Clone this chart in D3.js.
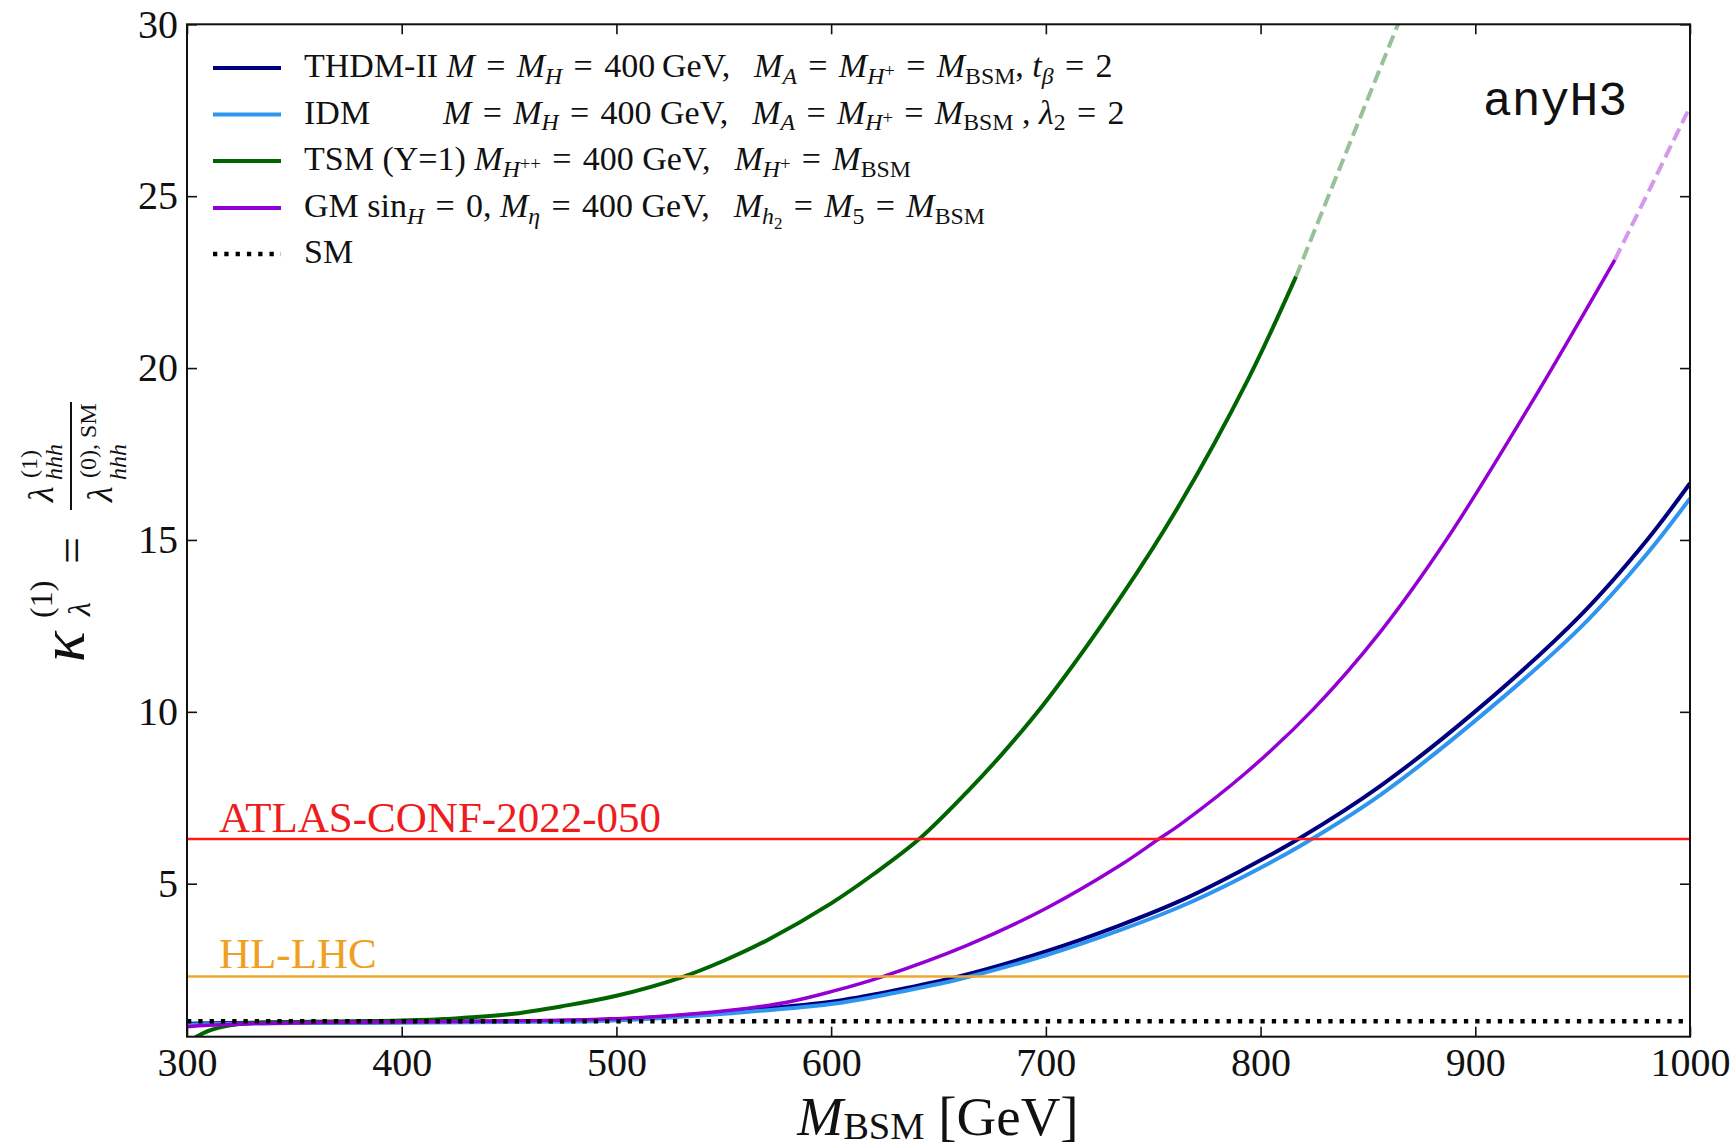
<!DOCTYPE html>
<html>
<head>
<meta charset="utf-8">
<title>kappa lambda vs M_BSM</title>
<script src="https://d3js.org/d3.v7.min.js"></script>
<style>
  body { margin: 0; background: #fff; }
  text { white-space: pre; }
  .axis path.domain { display: none; }
  .axis line { stroke: #111; stroke-width: 1.6px; }
  .axis text { font-family: 'Liberation Serif', 'Times New Roman', serif; font-size: 40px; fill: #111; }
</style>
</head>
<body>
<script>
// ---- data ----
var xTicks = [300, 400, 500, 600, 700, 800, 900, 1000];
var yTicks = [5, 10, 15, 20, 25, 30];

var massTHDM = [300, 320, 350, 400, 450, 492, 520, 550, 600, 630, 659.5, 700, 734.5, 762.5, 790, 818.4, 855.7, 900.7, 948.9, 980, 1000];
var kapTHDM  = [0.93, 0.95, 0.96, 0.97, 1.0, 1.03, 1.12, 1.27, 1.57, 1.9, 2.3, 3.03, 3.79, 4.5, 5.35, 6.33, 7.84, 10.05, 12.8, 15.0, 16.65];

var massIDM = [300, 320, 350, 400, 450, 492, 520, 550, 600, 630, 659.5, 700, 734.5, 762.5, 790, 818.4, 855.7, 900.7, 948.9, 980, 1000];
var kapIDM  = [0.9, 0.93, 0.95, 0.96, 0.98, 1.01, 1.09, 1.22, 1.5, 1.83, 2.22, 2.92, 3.65, 4.33, 5.14, 6.1, 7.58, 9.78, 12.45, 14.6, 16.21];

var massTSM = [303, 310, 320, 330, 350, 375, 400, 425, 450, 475, 500, 530, 550, 570, 600, 620, 641, 663, 680, 700, 735, 762, 794, 816.5];
var kapTSM  = [0.5, 0.72, 0.88, 0.95, 0.98, 1.0, 1.02, 1.08, 1.2, 1.44, 1.74, 2.27, 2.76, 3.35, 4.43, 5.29, 6.3, 7.65, 8.8, 10.3, 13.35, 16.0, 19.65, 22.66];
var massTSMext = [816.5, 840, 864];
var kapTSMext  = [22.66, 26.3, 30.0];

var massGM = [300, 310, 330, 360, 400, 450, 492, 520, 553, 580, 600, 624, 663, 700, 735, 752.6, 762.5, 793.6, 824.6, 855.7, 886.7, 925.5, 965];
var kapGM  = [0.84, 0.88, 0.93, 0.96, 0.98, 1.01, 1.06, 1.14, 1.32, 1.56, 1.86, 2.3, 3.2, 4.28, 5.55, 6.3, 6.72, 8.25, 10.08, 12.32, 15.02, 18.92, 23.15];
var massGMext = [965, 982, 1000];
var kapGMext  = [23.15, 25.3, 27.6];

var kapSM = 1.0;
var kapATLAS = 6.3;
var kapHLLHC = 2.3;

var SERIF = "'Liberation Serif', 'Times New Roman', serif";

var svg = d3.select("body").append("svg")
    .attr("width", 1735)
    .attr("height", 1148);

var x = d3.scaleLinear().domain([300, 1000]).range([187, 1690]);
var y = d3.scaleLinear().domain([0.55, 30]).range([1036.7, 24.3]);

svg.append("defs").append("clipPath").attr("id", "plotclip")
  .append("rect").attr("x", 187).attr("y", 24.3).attr("width", 1503).attr("height", 1012.4);

function pts(ms, ks) { return ms.map(function (m, i) { return [m, ks[i]]; }); }

var line = d3.line()
    .x(function (d) { return x(d[0]); })
    .y(function (d) { return y(d[1]); })
    .curve(d3.curveCatmullRom.alpha(0.5));

var plot = svg.append("g").attr("clip-path", "url(#plotclip)");

var series = [
  { m: massTHDM, k: kapTHDM, color: "#00007f", w: 4 },
  { m: massIDM,  k: kapIDM,  color: "#2f96f0", w: 4 },
  { m: massTSM,  k: kapTSM,  color: "#006400", w: 4 },
  { m: massGM,   k: kapGM,   color: "#9400d3", w: 3.5 }
];
series.forEach(function (s) {
  plot.append("path").datum(pts(s.m, s.k))
    .attr("d", line).attr("fill", "none")
    .attr("stroke", s.color).attr("stroke-width", s.w);
});

// dashed continuation (faded)
[[massTSMext, kapTSMext, "#006400"], [massGMext, kapGMext, "#9400d3"]].forEach(function (s) {
  plot.append("path").datum(pts(s[0], s[1]))
    .attr("d", line).attr("fill", "none")
    .attr("stroke", s[2]).attr("stroke-opacity", 0.4)
    .attr("stroke-width", 4).attr("stroke-dasharray", "13,6");
});

// horizontal reference lines
plot.append("line").attr("x1", x(300)).attr("x2", x(1000))
  .attr("y1", y(kapATLAS)).attr("y2", y(kapATLAS))
  .attr("stroke", "#ff1a1a").attr("stroke-width", 2.5);
plot.append("line").attr("x1", x(300)).attr("x2", x(1000))
  .attr("y1", y(kapHLLHC)).attr("y2", y(kapHLLHC))
  .attr("stroke", "#f0a830").attr("stroke-width", 2.5);
plot.append("line").attr("x1", x(300)).attr("x2", x(1000))
  .attr("y1", y(kapSM)).attr("y2", y(kapSM))
  .attr("stroke", "#000").attr("stroke-width", 4.3).attr("stroke-dasharray", "4.3,7");

svg.append("text").attr("x", 219).attr("y", 832)
  .attr("font-family", SERIF).attr("font-size", 43).attr("fill", "#ee1c1c")
  .text("ATLAS-CONF-2022-050");
svg.append("text").attr("x", 219).attr("y", 968)
  .attr("font-family", SERIF).attr("font-size", 43).attr("fill", "#f0a020")
  .text("HL-LHC");

// axes (ticks inward on all four sides)
svg.append("g").attr("class", "axis").attr("transform", "translate(0,1036.7)")
  .call(d3.axisBottom(x).tickValues(xTicks).tickSize(-10).tickPadding(11).tickFormat(d3.format("d")));
svg.append("g").attr("class", "axis").attr("transform", "translate(187,0)")
  .call(d3.axisLeft(y).tickValues(yTicks).tickSize(-10).tickPadding(9).tickFormat(d3.format("d")));
svg.append("g").attr("class", "axis").attr("transform", "translate(0,24.3)")
  .call(d3.axisTop(x).tickValues(xTicks).tickSize(-10).tickFormat(""));
svg.append("g").attr("class", "axis").attr("transform", "translate(1690,0)")
  .call(d3.axisRight(y).tickValues(yTicks).tickSize(-10).tickFormat(""));

svg.append("rect").attr("x", 187).attr("y", 24.3).attr("width", 1503).attr("height", 1012.4)
  .attr("fill", "none").attr("stroke", "#111").attr("stroke-width", 2);

// math-ish text helper: r roman, i italic, b sub, bi italic sub, p sup, bp sup on sub, bb sub of sub
function mathText(parent, px, py, size, segs, subOff) {
  var t = parent.append("text").attr("x", px).attr("y", py)
    .attr("font-family", SERIF).attr("font-size", size).attr("fill", "#111");
  var shift = 0;
  var so = subOff || 0.2;
  var off = { r: 0, i: 0, b: so, bi: so, p: -0.36, bp: 0.0, bb: 0.34 };
  var scl = { r: 1, i: 1, b: 0.7, bi: 0.7, p: 0.7, bp: 0.55, bb: 0.5 };
  segs.forEach(function (s) {
    var k = s[1];
    var ts = t.append("tspan").text(s[0])
      .attr("font-size", size * scl[k])
      .attr("dy", ((off[k] - shift) * size).toFixed(2));
    if (k === "i" || k === "bi") ts.attr("font-style", "italic");
    shift = off[k];
  });
  return t;
}

// legend
var legX = 304, legRows = [77, 123.5, 170, 217, 263];
var legColors = ["#00007f", "#2f96f0", "#006400", "#9400d3"];
legColors.forEach(function (c, i) {
  svg.append("line").attr("x1", 213).attr("x2", 281)
    .attr("y1", legRows[i] - 9).attr("y2", legRows[i] - 9)
    .attr("stroke", c).attr("stroke-width", 4);
});
svg.append("line").attr("x1", 213).attr("x2", 281)
  .attr("y1", legRows[4] - 9).attr("y2", legRows[4] - 9)
  .attr("stroke", "#000").attr("stroke-width", 4.3).attr("stroke-dasharray", "4.3,7");

var LS = 34;
var EQ = "\u2004=\u2004";
var GAP = ",\u2002\u2009";
mathText(svg, legX, legRows[0], LS, [
  ["THDM-II ", "r"], ["M", "i"], [EQ, "r"], ["M", "i"], ["H", "bi"],
  [EQ + "400\u2009GeV" + GAP, "r"], ["M", "i"], ["A", "bi"], [EQ, "r"], ["M", "i"], ["H", "bi"], ["+", "bp"],
  [EQ, "r"], ["M", "i"], ["BSM", "b"], [", ", "r"], ["t", "i"], ["\u03b2", "bi"], [EQ + "2", "r"]
]);
mathText(svg, legX, legRows[1], LS, [["IDM", "r"]]);
mathText(svg, 443, legRows[1], LS, [
  ["M", "i"], [EQ, "r"], ["M", "i"], ["H", "bi"],
  [EQ + "400 GeV" + GAP, "r"], ["M", "i"], ["A", "bi"], [EQ, "r"], ["M", "i"], ["H", "bi"], ["+", "bp"],
  [EQ, "r"], ["M", "i"], ["BSM", "b"], [" , ", "r"], ["\u03bb", "i"], ["2", "b"], [EQ + "2", "r"]
]);
mathText(svg, legX, legRows[2], LS, [
  ["TSM (Y=1) ", "r"], ["M", "i"], ["H", "bi"], ["++", "bp"],
  [EQ + "400 GeV" + GAP, "r"], ["M", "i"], ["H", "bi"], ["+", "bp"], [EQ, "r"], ["M", "i"], ["BSM", "b"]
]);
mathText(svg, legX, legRows[3], LS, [
  ["GM sin", "r"], ["H", "bi"], [EQ + "0, ", "r"], ["M", "i"], ["\u03b7", "bi"],
  [EQ + "400 GeV" + GAP, "r"], ["M", "i"], ["h", "bi"], ["2", "bb"], [EQ, "r"], ["M", "i"], ["5", "b"],
  [EQ, "r"], ["M", "i"], ["BSM", "b"]
]);
mathText(svg, legX, legRows[4], LS, [["SM", "r"]]);

// anyH3 tag
svg.append("text").attr("x", 1483).attr("y", 115)
  .attr("font-family", "'Liberation Mono', 'DejaVu Sans Mono', monospace")
  .attr("font-size", 48).attr("fill", "#111").text("anyH3");

// x label
mathText(svg, 938, 1135, 55, [["M", "i"], ["BSM", "b"], [" [GeV]", "r"]], 0.08).attr("text-anchor", "middle");

// y label, rotated
var yl = svg.append("g").attr("transform", "translate(84,662) rotate(-90)");
mathText(yl, 0, 0, 64, [["\u03ba", "i"]]);
mathText(yl, 44, -32, 32, [["(1)", "r"]]);
mathText(yl, 46, 6, 32, [["\u03bb", "i"]]);
mathText(yl, 98, 4, 48, [["=", "r"]]);
yl.append("line").attr("x1", 152).attr("x2", 260).attr("y1", -13).attr("y2", -13)
  .attr("stroke", "#111").attr("stroke-width", 2);
// numerator
mathText(yl, 160, -31, 36, [["\u03bb", "i"]]);
mathText(yl, 184, -47, 24, [["(1)", "r"]]);
mathText(yl, 182, -22, 24, [["hhh", "i"]]);
// denominator
mathText(yl, 160, 28, 36, [["\u03bb", "i"]]);
mathText(yl, 184, 12, 24, [["(0), SM", "r"]]);
mathText(yl, 182, 42, 24, [["hhh", "i"]]);
</script>
</body>
</html>
